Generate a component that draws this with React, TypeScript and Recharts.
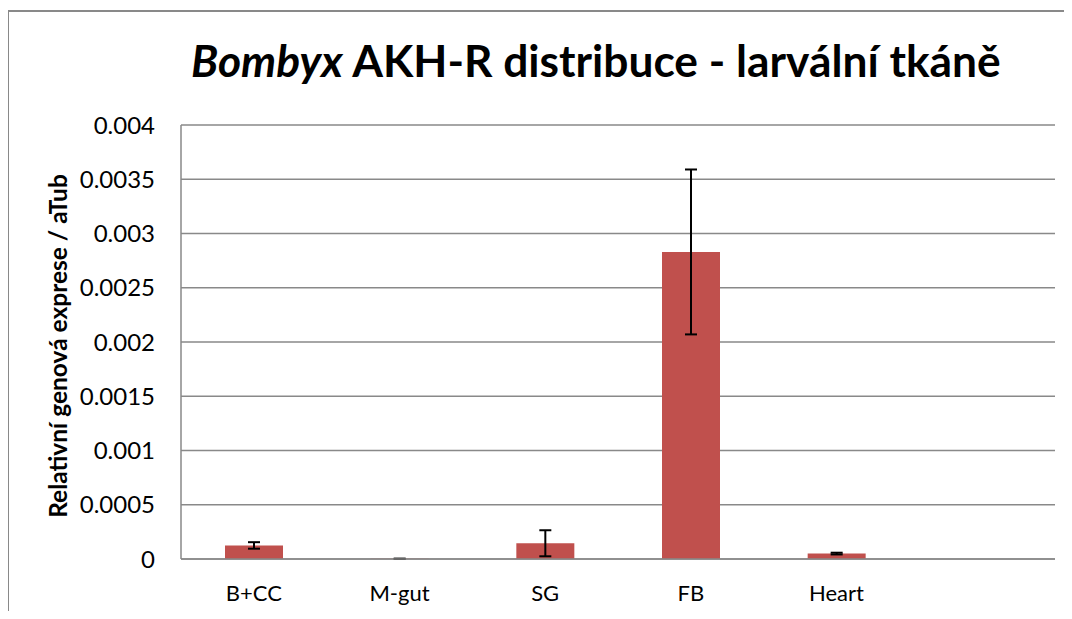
import React from "react";
import { BarChart, Bar, XAxis, YAxis, CartesianGrid, ErrorBar } from "recharts";

const tissues = ["B+CC", "M-gut", "SG", "FB", "Heart", ""];
const expression = [0.000125, 0.000002, 0.000145, 0.00283, 0.00005, null];
const errors = [0.00003, 0.000001, 0.00012, 0.00076, 0.000008, null];
const yTicks = [0, 0.0005, 0.001, 0.0015, 0.002, 0.0025, 0.003, 0.0035, 0.004];

const data = tissues.map((name, i) => ({
  name,
  value: expression[i],
  err: errors[i],
}));

const FONT = "Lato, 'Open Sans', sans-serif";
const GRID = "#898989";

export default function App() {
  return (
    <div style={{ position: "relative", width: 1050, height: 603, fontFamily: FONT }}>
      <style>{"html, body { overflow: hidden; }"}</style>
      {/* outer frame: only left and top edges are visible in the crop */}
      <div
        style={{
          position: "absolute",
          left: -1,
          top: 2,
          width: 1070,
          height: 640,
          borderLeft: `2px solid ${GRID}`,
          borderTop: `2px solid ${GRID}`,
          boxSizing: "border-box",
        }}
      />
      <div
        style={{
          position: "absolute",
          left: 183,
          top: 30,
          fontSize: 44.3,
          fontWeight: 700,
          color: "#000",
          whiteSpace: "nowrap",
          lineHeight: 1,
        }}
      >
        <i>Bombyx</i> AKH-R distribuce - larvální tkáně
      </div>
      <div style={{ position: "absolute", left: 50, top: 338, width: 0, height: 0 }}>
        <div
          style={{
            position: "absolute",
            left: 0,
            top: 0,
            transform: "translate(-50%, -50%) rotate(-90deg)",
            fontSize: 24.5,
            fontWeight: 700,
            whiteSpace: "nowrap",
            lineHeight: 1,
          }}
        >
          Relativní genová exprese / aTub
        </div>
      </div>
      <BarChart
        width={1050}
        height={603}
        data={data}
        margin={{ top: 117, right: 3, bottom: 22, left: 73 }}
        style={{ fontFamily: FONT, outline: "none" }}
        accessibilityLayer={false}
      >
        <CartesianGrid vertical={false} stroke={GRID} strokeWidth={1.5} />
        <XAxis
          dataKey="name"
          height={30}
          axisLine={{ stroke: GRID, strokeWidth: 1.5 }}
          tickLine={false}
          tickMargin={20}
          tick={{ fill: "#000", fontSize: 22 }}
          interval={0}
        />
        <YAxis
          width={100}
          domain={[0, 0.004]}
          ticks={yTicks}
          axisLine={{ stroke: GRID, strokeWidth: 1.5 }}
          tickLine={false}
          tickMargin={20}
          tick={{ fill: "#000", fontSize: 24 }}
          interval={0}
        />
        <Bar dataKey="value" fill="#C0504D" barSize={58} isAnimationActive={false}>
          <ErrorBar dataKey="err" width={6} stroke="#000" strokeWidth={2} />
        </Bar>
      </BarChart>
    </div>
  );
}
